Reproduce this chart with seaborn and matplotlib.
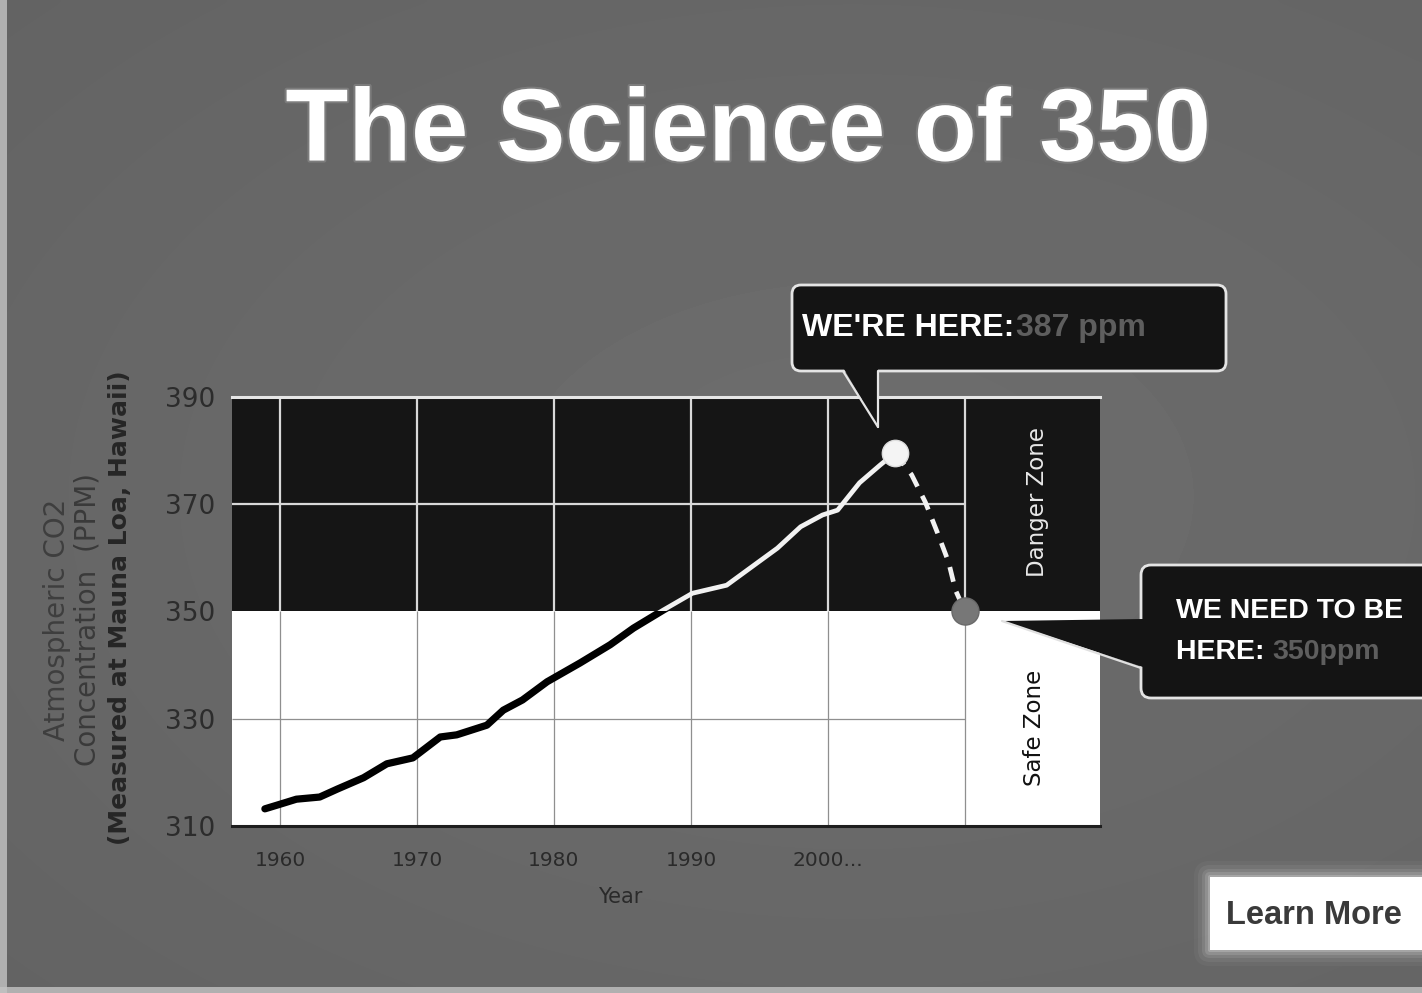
import numpy as np
import matplotlib
matplotlib.use("Agg")
import matplotlib.pyplot as plt
import seaborn as sns
from matplotlib.patches import Rectangle, Polygon, FancyBboxPatch
import matplotlib.patheffects as pe

# ---------------- data ----------------
years_obs = [1958.9, 1959.8, 1961.2, 1962.9, 1964.2, 1966.1, 1967.8, 1969.7,
             1971.7, 1972.9, 1975.1, 1976.3, 1977.7, 1979.5, 1981.9, 1984.1,
             1985.8, 1988.0, 1990.1, 1992.6, 1994.1, 1996.3, 1998.0, 1999.6,
             2000.7, 2002.3, 2003.8, 2004.9]
ppm_obs = [313.2, 313.9, 315.0, 315.4, 316.9, 319.0, 321.6, 322.7,
           326.6, 327.0, 328.8, 331.6, 333.5, 336.9, 340.4, 343.8,
           346.9, 350.3, 353.4, 354.9, 357.7, 361.8, 365.8, 368.0,
           368.9, 374.0, 377.3, 379.6]
years_proj = [2004.9, 2006.1, 2007.1, 2008.0, 2008.8, 2009.3, 2010.0]
ppm_proj = [379.6, 375.5, 370.4, 364.6, 359.2, 354.0, 350.0]

x_ticks = [1960, 1970, 1980, 1990, 2000]
x_tick_labels = ["1960", "1970", "1980", "1990", "2000..."]
grid_years = [1960, 1970, 1980, 1990, 2000, 2010]
y_ticks = [310, 330, 350, 370, 390]
y_tick_labels = ["310", "330", "350", "370", "390"]
threshold = 350
title = "The Science of 350"
current_text = ("WE'RE HERE:", "387 ppm")
target_text = ("WE NEED TO BE", "HERE: ", "350ppm")

# ---------------- style ----------------
sns.set_theme(style="white")
plt.rcParams['font.family'] = ['Liberation Sans', 'DejaVu Sans']

W, H = 1422, 993
fig = plt.figure(figsize=(W / 100, H / 100), dpi=100)
fig.patch.set_facecolor('#676767')

# background gradient (subtle)
bg = fig.add_axes([0, 0, 1, 1], zorder=0)
yy, xx = np.mgrid[0:1:200j, 0:1:300j]
r = np.sqrt(((xx - 0.6) / 1.0) ** 2 + ((yy - 0.5) / 0.9) ** 2)
val = 0.43 - 0.05 * r
bg.imshow(val, cmap='gray', vmin=0, vmax=1, extent=[0, 1, 0, 1],
          aspect='auto', origin='upper', interpolation='bicubic')
bg.set_xlim(0, 1); bg.set_ylim(0, 1)
bg.axis('off')

# main chart axes
x0, x1, yt, yb = 232, 1100, 397, 826
ax = fig.add_axes([x0 / W, 1 - yb / H, (x1 - x0) / W, (yb - yt) / H], zorder=2)
xmin, xmax = 1956.5, 2019.85
ax.set_xlim(xmin, xmax)
ax.set_ylim(310, 390)
ax.set_facecolor('white')

# zones
ax.axhspan(threshold, 390, color='#151515', zorder=0, lw=0)

# grid
ax.vlines(grid_years, threshold, 390, color='#d8d8d8', lw=1.6, zorder=1)
ax.vlines(grid_years, 310, threshold, color='#8f8f8f', lw=0.9, zorder=1)
ax.hlines(370, xmin, 2010, color='#d8d8d8', lw=1.6, zorder=1)
ax.hlines(330, xmin, 2010, color='#8f8f8f', lw=0.9, zorder=1)

# observed line: black below threshold, white above
sns.lineplot(x=years_obs, y=ppm_obs, ax=ax, color='black', lw=5.2,
             sort=False, estimator=None, zorder=3)
blk = ax.lines[-1]
blk.set_solid_capstyle('round'); blk.set_solid_joinstyle('round')
clip_lo = Rectangle((xmin, 300), 80, threshold - 300, transform=ax.transData)
blk.set_clip_path(clip_lo)

sns.lineplot(x=years_obs, y=ppm_obs, ax=ax, color='#f2f2f2', lw=3.4,
             sort=False, estimator=None, zorder=4)
wht = ax.lines[-1]
wht.set_solid_capstyle('round'); wht.set_solid_joinstyle('round')
clip_hi = Rectangle((xmin, threshold), 80, 50, transform=ax.transData)
wht.set_clip_path(clip_hi)

# projection (dashed)
sns.lineplot(x=years_proj, y=ppm_proj, ax=ax, color='#f2f2f2', lw=3.4,
             sort=False, estimator=None, zorder=4)
dsh = ax.lines[-1]
dsh.set_dashes((3.2, 2.2))

# dots
sns.scatterplot(x=[years_obs[-1]], y=[ppm_obs[-1]], ax=ax, s=360,
                color='#f4f4f4', edgecolor='#dddddd', linewidth=1, zorder=6)
sns.scatterplot(x=[years_proj[-1]], y=[ppm_proj[-1]], ax=ax, s=380,
                color='#777777', edgecolor='#6a6a6a', linewidth=1, zorder=6)

# zone labels
ax.text(2015.3, 370.4, "Danger Zone", rotation=90, color='#e8e8e8',
        ha='center', va='center', fontsize=16.5, family='DejaVu Sans', zorder=5)
ax.text(2015.1, 328.3, "Safe Zone", rotation=90, color='#111111',
        ha='center', va='center', fontsize=16.5, family='DejaVu Sans', zorder=5)

# ticks
ax.set_xticks(x_ticks)
ax.set_xticklabels(x_tick_labels, fontsize=14.5, color='#2a2a2a',
                   family='DejaVu Sans')
ax.set_yticks(y_ticks)
ax.set_yticklabels(y_tick_labels, fontsize=19, color='#2c2c2c',
                   family='DejaVu Sans')
ax.tick_params(axis='x', length=0, pad=18)
ax.tick_params(axis='y', length=0, pad=12)
ax.grid(False)
for s in ['left', 'right']:
    ax.spines[s].set_visible(False)
ax.spines['top'].set_color('#e6e6e6'); ax.spines['top'].set_linewidth(2.2)
ax.spines['bottom'].set_color('#1e1e1e'); ax.spines['bottom'].set_linewidth(2.2)

# axis titles
fig.text(620 / W, 1 - 897 / H, "Year", ha='center', va='center',
         fontsize=15, color='#2a2a2a', family='DejaVu Sans')
fig.text(57 / W, 1 - 620 / H, "Atmospheric CO2", rotation=90, ha='center',
         va='center', fontsize=20, color='#3e3e3e', family='DejaVu Sans')
fig.text(88 / W, 1 - 620 / H, "Concentration  (PPM)", rotation=90, ha='center',
         va='center', fontsize=20, color='#3a3a3a', family='DejaVu Sans')
fig.text(120 / W, 1 - 608 / H, "(Measured at Mauna Loa, Hawaii)", rotation=90,
         ha='center', va='center', fontsize=18, color='#262626',
         family='DejaVu Sans', fontweight='bold')

# title
fig.text(748 / W, 1 - 134 / H, title, ha='center', va='center',
         fontsize=74, fontweight='bold', color='white',
         path_effects=[pe.withStroke(linewidth=3, foreground='#b0b0b0', alpha=0.3)])

# ---------------- overlay for callouts ----------------
ov = fig.add_axes([0, 0, 1, 1], zorder=5)
ov.set_xlim(0, W); ov.set_ylim(H, 0)
ov.axis('off')

# slide edge (light border on left and bottom)
ov.add_patch(Rectangle((0, 0), 7, H, fc='#c4c4c4', ec='none', alpha=0.8))
ov.add_patch(Rectangle((0, H - 6), W, 6, fc='#c4c4c4', ec='none', alpha=0.8))

# callout 1
ov.add_patch(FancyBboxPatch((792, 285), 434, 86,
                            boxstyle="round,pad=0,rounding_size=9",
                            fc='#141414', ec='#e4e4e4', lw=2))
ov.add_patch(Polygon([(844, 369), (878, 369), (878, 427)], closed=True,
                     fc='#141414', ec='none'))
ov.plot([843, 878], [371, 427], color='#e4e4e4', lw=1.6)
ov.plot([878, 878], [371, 427], color='#e4e4e4', lw=1.6)
t1 = ov.text(802, 328, current_text[0], ha='left', va='center', fontsize=23,
             fontweight='bold', color='white')
fig.canvas.draw()
bb = t1.get_window_extent()
ov.text(bb.x1 + 2, 328, current_text[1], ha='left', va='center', fontsize=23,
        fontweight='bold', color='#5e5e5e')

# callout 2
ov.add_patch(FancyBboxPatch((1141, 565), 320, 133,
                            boxstyle="round,pad=0,rounding_size=10",
                            fc='#141414', ec='#e4e4e4', lw=2))
ov.add_patch(Polygon([(1143, 619), (1002, 621), (1143, 667)], closed=True,
                     fc='#141414', ec='none'))
ov.plot([1002, 1141], [621, 668], color='#e0e0e0', lw=1.6)
ov.text(1176, 611, target_text[0], ha='left', va='center', fontsize=20.5,
        fontweight='bold', color='white')
t2 = ov.text(1176, 652, target_text[1], ha='left', va='center', fontsize=20.5,
             fontweight='bold', color='white')
fig.canvas.draw()
bb2 = t2.get_window_extent()
ov.text(bb2.x1, 652, target_text[2], ha='left', va='center', fontsize=20.5,
        fontweight='bold', color='#5e5e5e')

# Learn More button with soft glow
for pad, a in [(16, 0.04), (12, 0.06), (8, 0.09), (5, 0.13), (2, 0.2)]:
    ov.add_patch(FancyBboxPatch((1210 - pad, 877 - pad), 260, 73 + 2 * pad,
                                boxstyle="round,pad=0,rounding_size=%d" % pad,
                                fc='white', ec='none', alpha=a))
ov.add_patch(Rectangle((1210, 877), 260, 73, fc='white', ec='none'))
ov.text(1226, 915, "Learn More", ha='left', va='center', fontsize=23.5,
        fontweight='bold', color='#3a3a3a')

fig.savefig("out.png", dpi=100, facecolor=fig.get_facecolor())
